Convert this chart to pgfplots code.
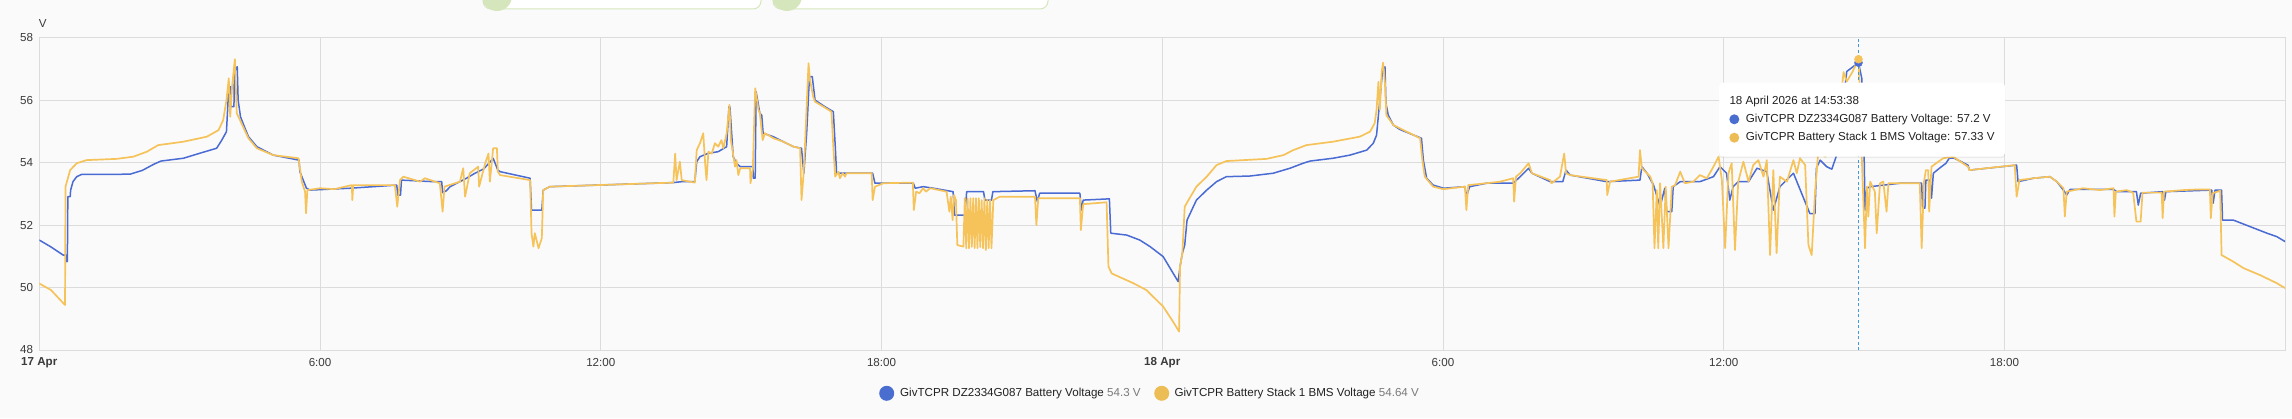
\documentclass[border=0pt]{standalone}
\usepackage{pgfplots}
\pgfplotsset{compat=1.18}
\usepackage{fontspec}
\setmainfont{Liberation Sans}
\usetikzlibrary{shadows}
\definecolor{bgc}{HTML}{FAFAFA}
\definecolor{gridc}{HTML}{DCDCDC}
\definecolor{labc}{HTML}{3A3A3A}
\definecolor{txtc}{HTML}{212121}
\definecolor{valc}{HTML}{7A7A7A}
\definecolor{blueS}{HTML}{4A6BD3}
\definecolor{yelS}{HTML}{F5C35A}
\definecolor{blueL}{HTML}{4A6ED0}
\definecolor{yelL}{HTML}{EDBD55}
\definecolor{greenc}{HTML}{D5E6BC}
\definecolor{dashc}{HTML}{3D9BE0}
\newcommand\f{\fontsize{11.6pt}{13pt}\selectfont}
\pgfplotstableread{
h v
0 51.52
0.25 51.30
0.51 51.04
0.58 51.04
0.58 50.83
0.60 50.83
0.61 52.91
0.66 52.91
0.67 53.12
0.72 53.39
0.80 53.55
0.90 53.62
1.20 53.62
1.94 53.63
2.20 53.75
2.45 53.95
2.60 54.05
3.08 54.14
3.43 54.30
3.79 54.46
3.90 54.72
4.00 54.99
4.05 56.43
4.09 56.43
4.10 55.79
4.16 55.79
4.17 56.91
4.23 57.07
4.25 56.00
4.30 55.47
4.37 55.20
4.47 54.83
4.65 54.51
5.00 54.24
5.55 54.08
5.57 53.71
5.64 53.44
5.71 53.18
5.79 53.12
6.64 53.18
7.64 53.28
7.66 52.96
7.72 52.96
7.74 53.44
8.42 53.39
8.60 53.39
8.62 53.04
8.70 53.10
8.78 53.23
9.13 53.50
9.30 53.65
9.50 53.80
9.65 54.05
9.70 54.14
9.80 53.76
9.85 53.71
10.49 53.50
10.52 52.48
10.74 52.48
10.77 53.12
10.91 53.23
13.55 53.36
13.73 53.39
14.01 53.39
14.05 54.03
14.12 54.19
14.30 54.30
14.51 54.35
14.69 54.51
14.74 55.79
14.76 55.79
14.83 54.19
14.90 53.98
14.98 53.87
15.25 53.87
15.26 53.50
15.30 53.50
15.32 56.27
15.40 55.58
15.44 55.52
15.47 54.94
15.69 54.83
15.90 54.67
16.12 54.51
16.29 54.46
16.34 53.66
16.40 54.94
16.46 56.75
16.52 56.75
16.58 56.00
16.79 55.79
16.97 55.63
17.01 54.56
17.04 53.66
17.81 53.66
17.86 53.34
18.68 53.34
18.72 53.18
18.89 53.23
19.11 53.18
19.53 53.07
19.56 52.32
19.78 52.32
19.82 53.07
20.18 53.07
20.21 52.80
20.35 52.80
20.38 53.07
21.28 53.10
21.33 52.75
21.38 53.02
22.24 53.02
22.27 52.48
22.31 52.80
22.87 52.84
22.90 51.74
23.24 51.68
23.52 51.52
23.74 51.31
24.02 50.99
24.34 50.19
24.38 50.67
24.43 51.10
24.48 51.36
24.53 52.16
24.63 52.48
24.73 52.80
24.95 53.12
25.16 53.39
25.37 53.55
25.87 53.57
26.37 53.66
26.73 53.82
27.01 53.98
27.16 54.05
27.65 54.14
28.01 54.24
28.37 54.40
28.51 54.62
28.58 54.88
28.65 56.00
28.71 56.97
28.76 57.07
28.78 55.90
28.83 55.52
28.94 55.20
29.08 55.06
29.54 54.78
29.58 54.08
29.65 53.50
29.79 53.28
30.01 53.18
30.47 53.23
30.50 52.91
30.57 53.23
30.93 53.34
31.22 53.34
31.50 53.34
31.65 53.55
31.83 53.82
31.90 53.66
32.29 53.39
32.56 53.39
32.63 53.76
32.72 53.60
33.50 53.39
34.21 53.44
34.25 53.87
34.36 53.66
34.50 53.28
34.64 52.59
34.74 53.18
34.78 52.43
34.89 52.43
34.92 53.23
35.07 53.39
35.49 53.39
35.78 53.55
35.92 53.87
36.06 53.66
36.13 52.80
36.20 53.23
36.31 53.39
36.53 53.39
36.71 53.82
36.92 53.71
37.06 52.48
37.20 53.23
37.49 53.66
37.84 52.37
37.95 52.37
37.98 53.82
38.06 54.08
38.20 53.87
38.31 53.79
38.45 54.40
38.55 55.90
38.63 56.92
38.88 57.20
38.95 56.70
39.00 54.30
39.02 52.48
39.06 53.18
39.13 53.23
39.77 53.34
40.23 53.34
40.25 52.54
40.30 52.54
40.32 53.44
40.41 53.44
40.44 52.86
40.48 53.66
40.61 53.82
40.75 53.98
40.82 54.14
40.93 54.14
41.22 53.92
41.25 53.76
42.26 53.92
42.29 53.39
42.62 53.50
42.97 53.55
43.12 53.39
43.26 53.12
43.33 52.96
43.40 53.14
44.33 53.14
44.40 53.07
44.82 53.07
44.86 52.64
44.91 53.02
45.38 53.07
45.42 52.80
45.45 53.07
46.43 53.12
46.46 52.70
46.50 53.12
46.64 53.12
46.66 52.16
46.89 52.16
47.25 51.95
47.61 51.74
47.82 51.63
48.00 51.47
}\blue
\pgfplotstableread{
h v
0 50.13
0.25 49.92
0.55 49.44
0.56 53.23
0.66 53.76
0.80 53.98
1.01 54.08
1.65 54.12
2.01 54.19
2.30 54.35
2.54 54.56
3.08 54.67
3.58 54.83
3.83 55.04
3.93 55.36
4.00 56.00
4.05 56.70
4.08 55.47
4.12 56.43
4.18 57.31
4.22 55.58
4.29 55.36
4.47 54.78
4.65 54.46
5.00 54.24
5.54 54.14
5.61 53.39
5.68 53.07
5.70 52.38
5.73 53.12
6.00 53.18
6.30 53.15
6.68 53.28
6.69 52.80
6.71 53.28
7.60 53.28
7.65 52.59
7.71 53.44
7.78 53.55
8.14 53.39
8.24 53.50
8.56 53.34
8.62 52.43
8.66 53.23
8.99 53.39
9.06 53.82
9.10 52.91
9.20 53.66
9.38 53.87
9.40 53.23
9.53 53.98
9.60 54.29
9.63 53.39
9.70 54.46
9.78 54.46
9.80 53.71
9.85 53.60
10.49 53.44
10.52 51.74
10.56 51.31
10.59 51.74
10.67 51.26
10.74 51.58
10.77 53.12
10.91 53.23
13.55 53.36
13.59 54.29
13.62 53.44
13.69 54.03
13.73 53.44
14.01 53.36
14.05 54.40
14.12 54.62
14.19 54.94
14.23 53.98
14.26 53.44
14.30 54.35
14.37 54.29
14.44 54.62
14.51 54.51
14.58 54.72
14.62 54.46
14.69 54.94
14.75 55.85
14.78 54.72
14.87 53.87
14.90 54.08
14.94 53.60
14.98 53.82
15.19 53.82
15.20 53.34
15.25 53.82
15.30 56.38
15.37 55.69
15.40 55.58
15.46 54.72
15.51 54.94
15.69 54.78
15.90 54.67
16.12 54.51
16.26 54.46
16.29 52.80
16.33 53.55
16.36 54.40
16.44 57.18
16.47 56.65
16.54 56.11
16.58 55.95
16.76 55.79
16.93 55.63
16.97 54.51
17.01 53.55
17.08 53.71
17.11 53.50
17.17 53.66
17.22 53.55
17.25 53.66
17.79 53.66
17.81 52.80
17.86 53.23
18.04 53.34
18.67 53.36
18.69 52.48
18.74 53.07
18.81 53.02
18.89 53.18
18.95 53.07
19.04 53.18
19.39 53.07
19.45 52.43
19.48 52.91
19.52 52.16
19.55 52.96
19.59 52.80
19.62 51.36
19.75 51.31
19.78 52.86
19.81 51.26
19.84 52.86
19.87 51.26
19.90 52.86
19.93 51.30
19.96 52.86
19.99 51.26
20.02 52.86
20.05 51.26
20.08 52.86
20.11 51.30
20.14 52.80
20.17 51.26
20.20 52.86
20.23 51.20
20.26 52.80
20.29 51.26
20.32 52.80
20.35 51.26
20.39 52.80
20.53 52.91
21.28 52.91
21.31 52.00
21.35 52.86
22.24 52.86
22.26 51.84
22.31 52.67
22.81 52.73
22.85 50.67
22.92 50.45
23.38 50.14
23.66 49.92
24.02 49.39
24.23 48.91
24.36 48.59
24.38 50.67
24.43 51.10
24.48 52.59
24.56 52.80
24.73 53.23
24.95 53.55
25.16 53.92
25.37 54.05
26.23 54.12
26.59 54.24
26.80 54.40
27.08 54.56
27.65 54.67
28.22 54.83
28.44 54.99
28.54 55.26
28.58 55.69
28.62 56.59
28.65 55.69
28.69 56.91
28.72 57.20
28.76 56.54
28.79 55.52
28.94 55.20
29.51 54.78
29.56 54.08
29.61 53.55
29.79 53.23
30.01 53.15
30.47 53.23
30.50 52.48
30.54 53.28
30.93 53.34
31.22 53.39
31.50 53.50
31.52 52.75
31.56 53.55
31.65 53.66
31.83 53.98
31.90 53.66
32.29 53.44
32.32 53.34
32.50 53.55
32.59 54.29
32.63 53.66
32.72 53.60
33.50 53.44
33.51 52.96
33.57 53.39
34.18 53.55
34.21 54.40
34.25 53.82
34.43 53.55
34.48 53.34
34.52 51.26
34.57 53.12
34.60 51.26
34.64 53.34
34.71 51.26
34.76 53.23
34.82 51.26
34.89 53.23
34.96 53.28
35.07 53.71
35.17 53.34
35.35 53.39
35.49 53.60
35.64 53.50
35.78 53.87
35.89 54.19
35.96 53.44
36.03 51.26
36.10 53.66
36.17 53.98
36.24 51.20
36.31 53.39
36.42 54.03
36.53 53.39
36.63 53.92
36.74 54.08
36.85 53.55
36.92 54.08
36.99 51.04
37.06 53.76
37.13 51.10
37.20 53.55
37.35 53.39
37.49 54.08
37.56 53.66
37.63 54.14
37.74 53.92
37.81 51.36
37.88 51.04
37.95 53.02
38.02 54.35
38.17 54.19
38.30 54.50
38.50 56.00
38.56 56.90
38.63 56.60
38.75 56.90
38.88 57.31
38.92 56.00
38.95 54.19
39.02 51.26
39.06 53.23
39.09 52.27
39.13 53.39
39.23 53.07
39.27 51.74
39.34 53.34
39.41 53.39
39.48 52.43
39.52 53.34
39.77 53.34
40.19 53.34
40.23 51.26
40.28 53.39
40.32 53.76
40.37 53.76
40.39 52.43
40.44 53.87
40.54 53.98
40.69 54.14
40.90 54.19
41.22 53.87
41.25 53.76
42.22 53.92
42.26 52.91
42.32 53.44
42.62 53.50
42.97 53.55
43.12 53.39
43.26 53.18
43.29 52.27
43.33 53.07
43.68 53.18
44.04 53.12
44.33 53.18
44.35 52.27
44.38 53.07
44.61 53.12
44.75 53.04
44.82 52.11
44.91 52.11
44.95 53.04
45.36 53.04
45.38 52.22
45.41 53.07
45.82 53.12
46.11 53.14
46.39 53.14
46.41 52.22
46.45 53.02
46.61 53.10
46.64 51.04
46.89 50.83
47.11 50.62
47.46 50.40
47.82 50.14
48.00 49.98
}\yellow
\begin{document}
\begin{tikzpicture}[x=1pt,y=1pt]
\useasboundingbox (0,0) rectangle (2292,418);
\fill[bgc] (0,0) rectangle (2292,418);
\begin{scope}
\clip (0,0) rectangle (2292,418);
\filldraw[fill=white, draw=greenc, line width=1pt, rounded corners=8pt] (483,435) rectangle (761,409);
\fill[greenc] (497,422) circle (15);
\filldraw[fill=white, draw=greenc, line width=1pt, rounded corners=8pt] (773,435) rectangle (1048,409);
\fill[greenc] (787,422) circle (15);
\end{scope}
\begin{axis}[
  at={(39.3pt,68pt)}, anchor=south west,
  width=2245.9pt, height=312.3pt, scale only axis,
  xmin=0, xmax=48, ymin=48, ymax=58,
  xtick={0,6,12,18,24,30,36,42},
  xticklabels={\textbf{17 Apr},6:00,12:00,18:00,\textbf{18 Apr},6:00,12:00,18:00},
  ytick={48,50,52,54,56,58},
  yticklabels={48,50,52,54,56,58},
  grid=major,
  major grid style={draw=gridc, line width=0.9pt},
  axis line style={draw=gridc, line width=0.9pt},
  major tick length=0pt,
  tick label style={font=\f, text=labc},
  xticklabel style={anchor=center, yshift=-12.7pt, inner sep=0pt},
  yticklabel style={anchor=east, xshift=-6pt, inner sep=0pt},
  clip=true,
]
\addplot[blueS, line width=1.5pt, line join=round] table[x=h,y=v] {\blue};
\addplot[yelS, line width=1.7pt, line join=round] table[x=h,y=v] {\yellow};
\addplot[dashc, line width=0.9pt, dash pattern=on 3pt off 2.5pt] coordinates {(38.88,48) (38.88,58)};
\addplot[only marks, mark=*, mark size=4pt, blueS, mark options={draw=blueS, fill=blueS}] coordinates {(38.88,57.2)};
\addplot[only marks, mark=*, mark size=4pt, yelS, mark options={draw=yelS, fill=yelS}] coordinates {(38.88,57.31)};
\end{axis}
\node[font=\f, text=labc, inner sep=0pt] at (42.7,394) {V};
% tooltip
\fill[white, rounded corners=4pt, drop shadow={shadow xshift=0pt, shadow yshift=-1.5pt, opacity=0.12}] (1719,261.3) rectangle (2005,335.3);
\node[font=\f, text=txtc, anchor=west, inner sep=0pt] at (1729.3,316.3) {18 April 2026 at 14:53:38};
\fill[blueL] (1734.3,298.7) circle (5);
\node[font=\f, text=txtc, anchor=west, inner sep=0pt] at (1745.7,298.7) {GivTCPR DZ2334G087 Battery Voltage: 57.2 V};
\fill[yelL] (1734.3,280.3) circle (5);
\node[font=\f, text=txtc, anchor=west, inner sep=0pt] at (1745.7,280.3) {GivTCPR Battery Stack 1 BMS Voltage: 57.33 V};
% legend
\fill[blueL] (886.7,24.7) circle (7.5);
\node[font=\f, anchor=west, inner sep=0pt] at (900,24.7) {\textcolor{txtc}{GivTCPR DZ2334G087 Battery Voltage} \textcolor{valc}{54.3 V}};
\fill[yelL] (1161.7,24.7) circle (7.5);
\node[font=\f, anchor=west, inner sep=0pt] at (1174.3,24.7) {\textcolor{txtc}{GivTCPR Battery Stack 1 BMS Voltage} \textcolor{valc}{54.64 V}};
\end{tikzpicture}
\end{document}
